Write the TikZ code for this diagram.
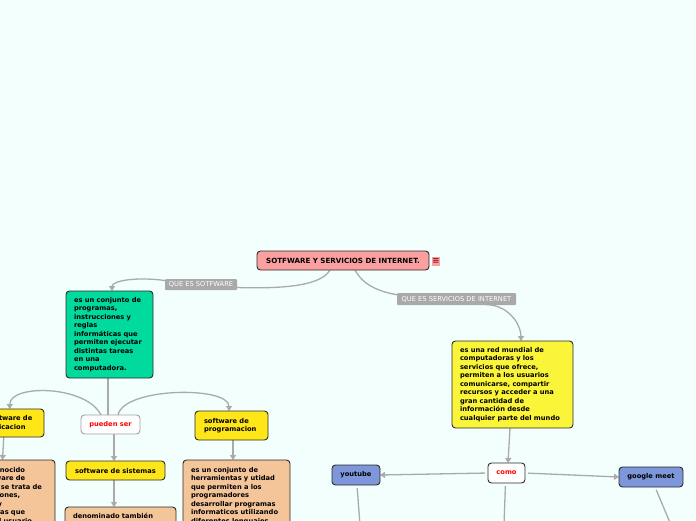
\documentclass[tikz,border=0pt]{standalone}
\usepackage{fontspec}
\setmainfont{DejaVu Sans}
\usetikzlibrary{arrows.meta,calc}
\pgfdeclarelayer{back}
\pgfsetlayers{back,main}
\definecolor{bgc}{HTML}{F3FFFD}
\definecolor{connc}{HTML}{AAAAAA}
\definecolor{rootc}{HTML}{FBA0A0}
\definecolor{greenc}{HTML}{00DA9D}
\definecolor{goldc}{HTML}{FFE619}
\definecolor{yelc}{HTML}{FBF53A}
\definecolor{peach}{HTML}{F5C59A}
\definecolor{bluec}{HTML}{7D97DA}
\definecolor{labelc}{HTML}{A9A9A9}
\definecolor{bordc}{HTML}{2B2B2B}
\definecolor{grayb}{HTML}{A0A0A0}
\definecolor{iconc}{HTML}{8B1A1A}
\begin{document}
\begin{tikzpicture}[x=1pt,y=-1pt,
  every node/.style={inner sep=0pt, outer sep=0pt},
  body/.style={font=\fontsize{6.7}{8.5}\selectfont\bfseries},
  cbox/.style={body, draw=bordc, line width=0.9pt, rounded corners=3.5pt},
  para/.style={cbox, align=left, inner xsep=8pt},
  lbl/.style={fill=labelc, text=white, rounded corners=1pt, font=\fontsize{6.7}{8}\selectfont},
  conn/.style={draw=connc, line width=1.3pt},
  arr/.style={conn, -{Triangle[length=5pt,width=6pt]}}]
\useasboundingbox (0,0) rectangle (696,520);
\begin{pgfonlayer}{back}
\fill[bgc] (0,0) rectangle (696,520);
\end{pgfonlayer}

% nodes
\node[cbox, fill=rootc, minimum width=172pt, minimum height=19pt, font=\fontsize{7.1}{8}\selectfont\bfseries] (root) at (343,260.5) {SOTFWARE Y SERVICIOS DE INTERNET.};
\node[fill=rootc, minimum width=8pt, minimum height=9pt, text=iconc, font=\fontsize{8.5}{8}\selectfont\bfseries] (icon) at (436,261) {≡};
\node[lbl, minimum width=72pt, minimum height=11pt] (l1) at (201,284.5) {QUE ES SOTFWARE};
\node[lbl, minimum width=119pt, minimum height=12pt] (l2) at (456.5,299) {QUE ES SERVICIOS DE INTERNET};

\node[para, fill=greenc, anchor=north west, text width=71pt, minimum height=87pt] (soft) at (66,291)
 {es un conjunto de\\programas,\\instrucciones y\\reglas\\informáticas que\\permiten ejecutar\\distintas tareas\\en una\\computadora.};
\node[para, fill=yelc, anchor=north west, text width=105pt, minimum height=87pt] (red) at (452,341)
 {es una red mundial de\\computadoras y los\\servicios que ofrece,\\permiten a los usuarios\\comunicarse, compartir\\recursos y acceder a una\\gran cantidad de\\información desde\\cualquier parte del mundo};

\node[cbox, fill=white, draw=grayb, text=red, minimum width=59pt, minimum height=19pt] (pueden) at (110.5,424.5) {pueden ser};
\node[para, fill=goldc, anchor=north east, text width=48.5pt, minimum height=28pt] (aplic) at (44,409) {software de\\aplicacion};
\node[para, fill=goldc, anchor=north west, text width=55pt, inner xsep=9pt, minimum height=29pt] (prog) at (195,411) {software de\\programacion};
\node[cbox, fill=goldc, minimum width=99pt, minimum height=19pt] (sist) at (115.5,470.5) {software de sistemas};

\node[para, fill=peach, anchor=north east, text width=89pt, inner ysep=7pt, text depth=80pt] (apdesc) at (55,460)
 {también conocido\\como software de\\aplicación, se trata de\\las aplicaciones,\\utilidades y\\herramientas que\\permiten al usuario};
\node[para, fill=peach, anchor=north west, text width=91pt, inner ysep=7pt, text depth=80pt] (progdesc) at (183,460)
 {es un conjunto de\\herramientas y utidad\\que permiten a los\\programadores\\desarrollar programas\\informaticos utilizando\\diferentes lenguajes};
\node[para, fill=peach, anchor=north west, text width=95pt, inner ysep=6pt, text depth=40pt] (sisdesc) at (65,507) {denominado también};

\node[cbox, fill=white, text=red, minimum width=37pt, minimum height=20pt] (como) at (506.5,473) {como};
\node[cbox, fill=bluec, minimum width=48pt, minimum height=20pt] (yt) at (356,475) {youtube};
\node[cbox, fill=bluec, minimum width=64pt, minimum height=20pt] (gm) at (651,477) {google meet};

\coordinate (ytend) at (360,525);
\coordinate (comoend) at (504,525);
\coordinate (gmend) at (671,525);

% connectors
\begin{pgfonlayer}{back}
\draw[arr] ($(root.south)+(-13,0)$) .. controls +(-10,18) and +(35,1) .. ($(l1.east)+(0,3)$) -- ($(l1.west)+(0,-4)$) .. controls +(-30,-4) and +(0,-10) .. ($(soft.north)+(2.5,0)$);
\draw[arr] ($(root.south)+(12,0)$) .. controls +(8,15) and +(-20,-3) .. ($(l2.west)+(2,-4)$) -- ($(l2.south east)+(-25,0)$) .. controls +(20,3) and +(0,-15) .. ($(red.north)+(8.5,0)$);
\draw[conn] ($(soft.south)+(-1.5,0)$) -- ($(pueden.north)+(-2.5,0)$);
\draw[arr] ($(pueden.north)+(-9.5,0)$) .. controls +(-15,-30) and +(0,-25) .. ($(aplic.north)+(-2,0)$);
\draw[arr] ($(pueden.north)+(7.5,0)$) .. controls +(6,-28) and +(0,-25) .. ($(prog.north)+(-2.5,0)$);
\draw[arr] ($(pueden.south)+(3.5,0)$) -- ($(sist.north)+(-1.5,0)$);
\draw[arr] ($(sist.south)+(-1.5,0)$) -- ($(sisdesc.north)+(-6.5,0)$);
\draw[arr] ($(aplic.south)+(-8,0)$) -- ($(apdesc.north)+(0,0)$);
\draw[arr] ($(prog.south)+(1.5,0)$) -- ($(progdesc.north)+(-3.5,0)$);
\draw[arr] ($(red.south)+(-2.5,0)$) -- ($(como.north)+(1.5,0)$);
\draw[arr, shorten <=3pt] (como.west) -- (yt.east);
\draw[arr, shorten <=3pt] (como.east) -- (gm.west);
\draw[conn, shorten <=3pt] ($(yt.south)+(1,0)$) -- (ytend);
\draw[conn, shorten <=3pt] ($(como.south)+(-1,0)$) -- (comoend);
\draw[conn, shorten <=3pt] ($(gm.south)+(4,0)$) -- (gmend);
\end{pgfonlayer}
\end{tikzpicture}
\end{document}
